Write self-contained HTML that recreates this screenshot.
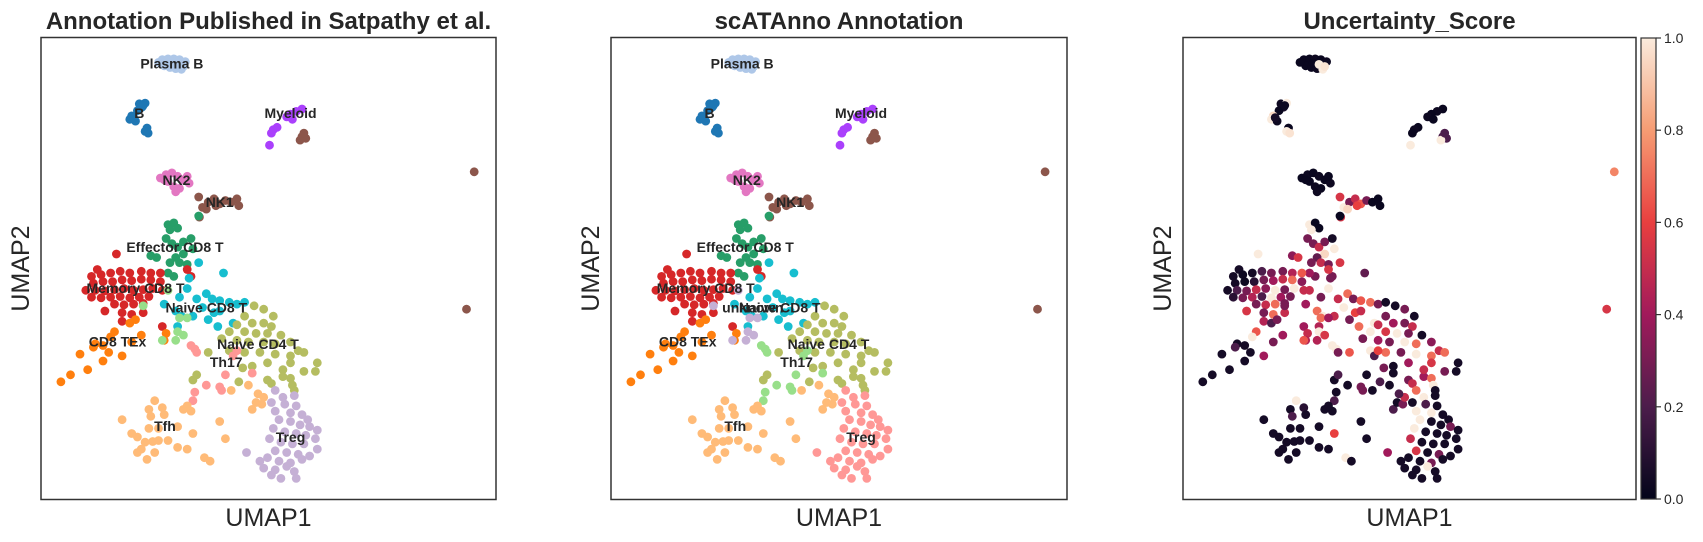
<!DOCTYPE html>
<html><head><meta charset="utf-8">
<style>
html,body{margin:0;padding:0;background:#fff;}
svg{display:block;font-family:"Liberation Sans",Arial,sans-serif;}
</style></head>
<body>
<svg id="chart" width="1703" height="542" viewBox="0 0 1703 542"></svg>
<script>
// Data (UMAP units), each point [umap1, umap2, uncertainty]
const plasmaB=[[425,172,.02],[440,170,.02],[455,170,.03],[470,172,.02],[485,178,.03],[430,190,.02],[445,195,.02],[460,198,.03],[475,200,1],[415,180,.02],[450,182,.02],[465,186,1],[480,192,.98]];
const bCells=[[365,300,.03],[380,298,1],[372,310,.05],[360,320,.02],[345,335,.95],[340,345,1],[355,350,.03],[350,340,.05],[385,370,.02],[380,380,1],[388,385,.98],[375,305,.03]];
const myeloid=[[790,315,.02],[775,322,.03],[760,330,.02],[750,338,.03],[725,368,.02],[715,375,.03],[710,385,.02],[705,420,1],[765,345,.02]];
const brown=[[790,395,.2],[800,400,.2],[785,405,1],[795,385,.2],[1240,497,.75],[1220,895,.55]];
const nk2=[[420,515,.02],[435,505,.03],[450,500,.02],[465,510,.03],[480,520,.02],[495,530,.03],[440,525,.02],[455,540,.03],[470,545,.02],[460,555,.03],[430,520,.02],[490,510,.02]];
const nk1=[[520,570,.55],[530,600,1],[545,585,.3],[560,575,.5],[575,590,.65],[590,580,.3],[605,585,.02],[620,575,.02],[625,595,.02],[540,605,.95],[565,595,.6],[522,628,.55]];
const effector=[[440,650,1],[455,645,.02],[465,660,.02],[445,665,1],[435,690,.3],[450,705,.3],[465,715,.5],[480,700,.3],[500,690,.05],[505,720,1],[480,735,.95],[460,745,.25],[445,760,.3],[470,760,.5],[490,765,.3],[395,740,.35],[410,745,.55],[455,800,.3],[440,790,.4],[520,625,.02]];
const memory=[[255,780,.05],[305,735,1],[240,800,.05],[265,795,.03],[290,790,.05],[315,785,.2],[340,790,.3],[370,785,.3],[395,790,.45],[420,790,.65],[245,820,.05],[270,815,.03],[295,815,.1],[320,810,.3],[345,812,.4],[370,808,.5],[395,810,.7],[420,815,.35],[225,840,.05],[250,840,.2],[275,842,.3],[300,838,.5],[325,835,.35],[350,840,1],[375,838,.3],[400,835,1],[425,840,.5],[240,860,.1],[265,862,.3],[290,860,.45],[315,858,.2],[340,862,1],[365,860,.4],[390,858,.3],[300,880,.3],[325,882,.5],[350,880,.7],[375,878,.3],[275,900,.55],[320,905,.3],[345,910,.7],[375,905,.5],[320,930,.45],[425,945,.4],[500,800,.3],[490,780,.55]];
const tex=[[340,935,.2],[355,925,.3],[300,960,.65],[290,975,1],[250,995,.05],[270,1000,.05],[245,1005,.2],[210,1025,.05],[285,1020,.05],[320,1030,.4],[270,1045,.05],[230,1070,.05],[185,1085,.05],[160,1105,.05],[435,965,.5],[430,985,.45],[345,990,.3],[370,970,.4]];
const naiveCD8=[[585,790,.25],[520,760,.55],[495,805,.3],[490,835,1],[470,860,.3],[515,865,.5],[540,850,.7],[555,865,.3],[575,870,.65],[600,875,.7],[620,880,.3],[640,875,.05],[530,890,1],[560,905,.6],[545,925,.3],[505,915,.5],[460,900,.7],[475,915,1],[430,880,.4],[610,935,1],[570,945,.7],[465,945,.45],[575,900,.5]];
const lightGreen=[[440,840,.5],[375,885,.3],[470,920,.7],[490,920,.4],[465,960,1],[460,985,.45],[480,970,.55],[425,985,.65]];
const naiveCD4=[[665,885,.05],[690,895,.3],[715,915,.05],[640,915,.3],[620,940,.5],[660,935,.4],[690,935,.3],[710,945,.5],[600,960,1],[640,960,.55],[670,965,1],[700,965,.3],[735,970,.05],[580,980,.3],[620,985,.4],[650,990,.3],[690,990,1],[720,995,.7],[760,990,.35],[545,1020,.65],[600,1015,1],[640,1020,.7],[680,1020,.3],[720,1025,1],[760,1030,.7],[780,1015,.5],[830,1050,.05],[825,1075,.05],[795,1075,.3],[760,1050,.55],[700,1050,.4],[660,1060,.05],[635,1065,.3],[740,1090,.4],[760,1095,.7],[700,1100,.3],[710,1110,.5],[765,1115,1],[770,1130,.05],[505,1100,.05],[515,1085,.2],[625,1105,.2],[795,1020,.7],[740,1070,.5]];
const th17=[[500,1000,1],[510,1010,1],[610,1030,.2],[620,1015,.6],[590,1085,.05],[660,1080,.05],[540,1115,.05],[575,1120,.3],[510,1135,.05],[505,1160,.2],[580,1130,.3],[515,1020,.3]];
const tfh=[[405,1160,1],[390,1185,.05],[425,1180,.1],[395,1205,.2],[430,1200,.05],[480,1185,.05],[500,1190,.05],[490,1175,.05],[320,1215,.05],[390,1240,.05],[415,1240,.05],[465,1235,.05],[345,1255,.05],[360,1265,.05],[380,1280,.05],[400,1278,.05],[415,1275,.05],[440,1275,.05],[370,1300,.05],[405,1310,.05],[360,1310,.05],[385,1330,.05],[465,1295,.05],[490,1300,.05],[505,1255,.6],[575,1220,.05],[590,1270,.05],[535,1325,1],[550,1335,.05],[605,1130,.05],[650,1115,.05],[660,1185,.2],[670,1165,.05],[685,1170,.3],[690,1150,.5],[675,1140,.2]];
const treg=[[720,1130,.7],[740,1150,1],[770,1145,.05],[710,1165,.05],[745,1170,.2],[775,1175,.05],[720,1190,1],[760,1195,1],[790,1200,.05],[805,1215,.05],[730,1215,1],[760,1220,.05],[785,1230,.05],[810,1235,.3],[830,1245,.05],[715,1240,1],[745,1250,.05],[775,1255,.05],[800,1260,.05],[825,1270,.05],[705,1270,.5],[735,1280,.05],[765,1285,.05],[795,1285,.05],[830,1300,.05],[720,1305,.55],[750,1310,.05],[780,1315,.3],[810,1320,.05],[645,1310,.4],[680,1335,.05],[700,1325,.05],[730,1335,.05],[760,1340,.3],[790,1330,.05],[690,1355,.05],[720,1360,.05],[750,1350,1],[770,1365,.05],[735,1385,.05],[775,1385,.05],[710,1375,.05]];

const groupsData=[plasmaB,bCells,myeloid,brown,nk2,nk1,effector,memory,tex,naiveCD8,lightGreen,naiveCD4,th17,tfh,treg];
const colorsP1=["#aec7e8","#1f77b4","#aa40fc","#8c564b","#e377c2","#8c564b","#279e68","#d62728","#ff7f0e","#17becf","#98df8a","#b5bd61","#ff9896","#ffbb78","#c5b0d5"];
const colorsP2=["#aec7e8","#1f77b4","#aa40fc","#8c564b","#e377c2","#8c564b","#279e68","#d62728","#ff7f0e","#17becf","#c5b0d5","#b5bd61","#98df8a","#ffbb78","#ff9896"];
const labelNamesP1=["Plasma B","B","Myeloid","NK2","NK1","Effector CD8 T","Memory CD8 T","Naive CD8 T","CD8 TEx","Naive CD4 T","Th17","Tfh","Treg"];
const labelNamesP2=["Plasma B","B","Myeloid","NK2","NK1","Effector CD8 T","Memory CD8 T","unknown","Naive CD8 T","CD8 TEx","Naive CD4 T","Th17","Tfh","Treg"];
const labelPosP1=[[450,183],[365,327],[760,327],[462,520],[575,585],[458,715],[355,833],[540,890],[308,988],[675,995],[592,1048],[432,1233],[760,1265]];
const labelPosP2=[[450,183],[365,327],[760,327],[462,520],[575,585],[458,715],[355,833],[478,890],[548,890],[308,988],[675,995],[592,1048],[432,1233],[760,1265]];
const cbTicks=[0,0.2,0.4,0.6,0.8,1.0];
const cbTickLabels=["0.0","0.2","0.4","0.6","0.8","1.0"];

const NS="http://www.w3.org/2000/svg";
const svg=document.getElementById('chart');
function mk(tag,attrs,parent){const e=document.createElementNS(NS,tag);for(const k in attrs)e.setAttribute(k,attrs[k]);(parent||svg).appendChild(e);return e;}
const X0=108,X1=1297,Y0=108,Y1=1446,TOP=37.5,H=462;
function xs(left,w){return v=>left+(v-X0)/(X1-X0)*w;}
function ys(v){return TOP+(v-Y0)/(Y1-Y0)*H;}
const rocket=[[0,[3,5,26]],[0.2,[76,29,75]],[0.4,[161,26,91]],[0.6,[232,63,63]],[0.8,[246,156,115]],[1,[250,235,221]]];
function cmap(t){t=Math.max(0,Math.min(1,t));for(let i=1;i<rocket.length;i++){if(t<=rocket[i][0]){const a=rocket[i-1],b=rocket[i];const f=(t-a[0])/(b[0]-a[0]);const c=a[1].map((v,j)=>Math.round(v+(b[1][j]-v)*f));return `rgb(${c[0]},${c[1]},${c[2]})`;}}return 'rgb(250,235,221)';}

function panel(left,w,title,mode,id){
  const g=mk('g',{});
  
  
  const x=xs(left,w);
  const pts=mk('g',{},g);
  
  
  groupsData.forEach((grp,gi)=>{
    grp.forEach(p=>{
      const fill=mode==='p1'?colorsP1[gi]:mode==='p2'?colorsP2[gi]:cmap(p[2]);
      const c=mk('circle',{cx:x(p[0]).toFixed(1),cy:ys(p[1]).toFixed(1),r:4.4,fill:fill},pts);
      
      
    });
  });
  const fr=mk('rect',{x:left,y:TOP,width:w,height:H,fill:'none',stroke:'#333',"stroke-width":1.5},g);
  
  
  if(mode!=='p3'){
    const names=mode==='p1'?labelNamesP1:labelNamesP2, pos=mode==='p1'?labelPosP1:labelPosP2;
    names.forEach((n,i)=>{
      const t=mk('text',{x:x(pos[i][0]),y:ys(pos[i][1])+5,"text-anchor":"middle","font-size":14,"font-weight":"bold",fill:'#262626'},g);
      t.textContent=n;
      
      
    });
  }
  const tt=mk('text',{x:left+w/2,y:29,"text-anchor":"middle","font-size":24,"font-weight":"bold",fill:'#262626'},g);
  tt.textContent=title;
  
  
  const xl=mk('text',{x:left+w/2,y:526,"text-anchor":"middle","font-size":25,fill:'#262626'},g);
  xl.textContent='UMAP1';
  
  
  const yl=mk('text',{x:0,y:0,"text-anchor":"middle","font-size":25,fill:'#262626',transform:`translate(${left-12},${TOP+H/2}) rotate(-90)`},g);
  yl.textContent='UMAP2';
  
  
}
panel(41,455,'Annotation Published in Satpathy et al.','p1','published');
panel(611,456,'scATAnno Annotation','p2','scatanno');
panel(1183,453,'Uncertainty_Score','p3','uncertainty');

// colorbar
const defs=mk('defs',{});
const lg=mk('linearGradient',{id:'rk',x1:0,y1:1,x2:0,y2:0},defs);
for(let i=0;i<=20;i++){mk('stop',{offset:(i/20),"stop-color":cmap(i/20)},lg);}
const cbG=mk('g',{});


const cbTop=38,cbBot=499,cbX=1641,cbW=15;
mk('rect',{x:cbX,y:cbTop,width:cbW,height:cbBot-cbTop,fill:'url(#rk)',stroke:'#333',"stroke-width":1.2},cbG);
cbTicks.forEach((v,i)=>{
  const y=cbBot-(v)*(cbBot-cbTop);
  mk('line',{x1:cbX+cbW,x2:cbX+cbW+5,y1:y,y2:y,stroke:'#333',"stroke-width":1.2},cbG);
  const t=mk('text',{x:cbX+cbW+8,y:y+5,"font-size":14,fill:'#262626'},cbG);
  t.textContent=cbTickLabels[i];
  
  
});
</script>
</body></html>
